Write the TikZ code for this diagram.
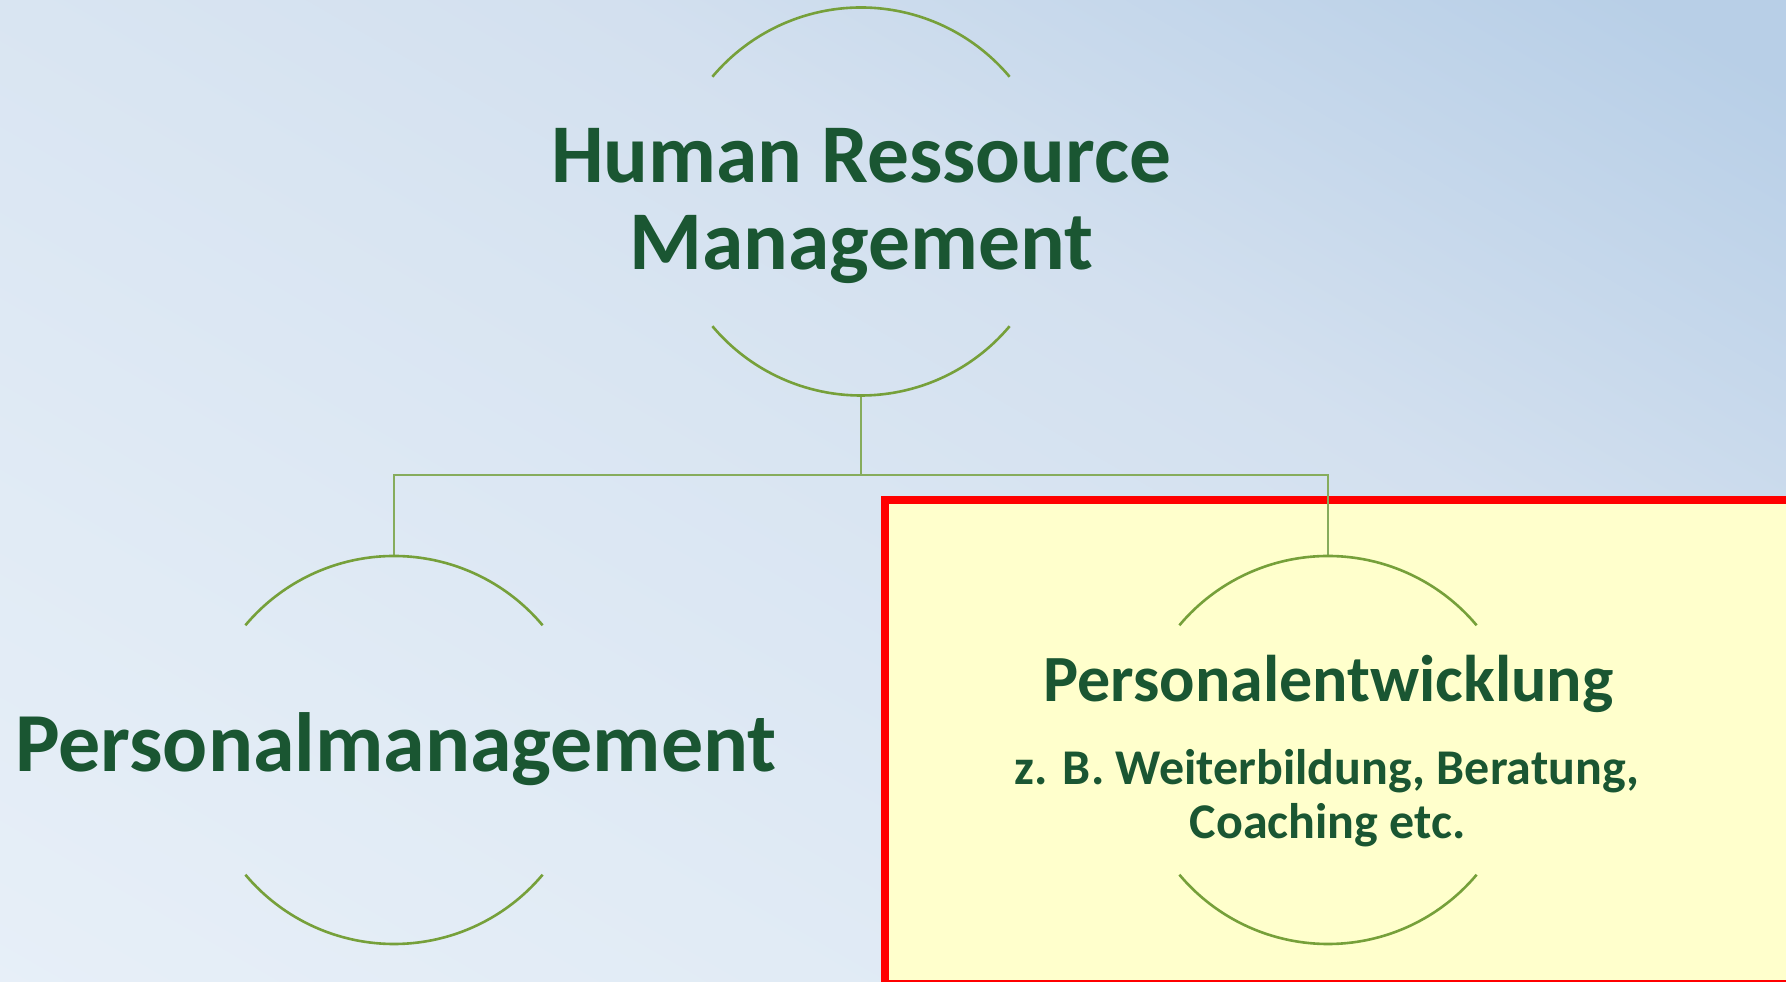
\documentclass[tikz,border=0pt]{standalone}
\usepackage{fontspec}
\setmainfont{Carlito}
\definecolor{bgA}{HTML}{E7EFF8}
\definecolor{bgB}{HTML}{E1EBF5}
\definecolor{bgC}{HTML}{D9E5F2}
\definecolor{bgD}{HTML}{D3E0EF}
\definecolor{bgE}{HTML}{B8CFE7}
\definecolor{txtgreen}{HTML}{1A5632}
\definecolor{arcgreen}{HTML}{76A03A}
\definecolor{conngreen}{HTML}{86AC5C}
\definecolor{boxyellow}{HTML}{FFFFCC}
\pgfdeclareverticalshading{bgshade}{100bp}{color(0bp)=(bgA); color(25bp)=(bgA); color(37bp)=(bgB); color(49.5bp)=(bgC); color(58bp)=(bgD); color(72.5bp)=(bgE); color(75bp)=(bgE); color(100bp)=(bgE)}
\tikzset{
  ring/.style={circle, minimum size=388pt, inner sep=0pt, outer sep=0pt},
  arcline/.style={draw=arcgreen, line width=2.6pt},
  conn/.style={draw=conngreen, line width=2.5pt},
  lbl/.style={text=txtgreen, inner sep=0pt},
}
\begin{document}
\begin{tikzpicture}[x=1pt,y=1pt]
\useasboundingbox (0,0) rectangle (1786,982);
% background
\begin{scope}
\clip (0,0) rectangle (1786,982);
\shade[shading=bgshade, transform canvas={rotate=-30}] (-700,-20) rectangle (1800,1760);
\end{scope}
% highlight box
\begin{scope}
\clip (0,0) rectangle (1786,982);
\path[fill=boxyellow, draw=red, line width=8pt] (885,-2) rectangle (1794,482);
\end{scope}
% rings (invisible nodes)
\node[ring] (hrm) at (861,780.5) {};
\node[ring] (pm) at (394,232) {};
\node[ring] (pe) at (1328,232) {};
% connectors
\coordinate (hub) at (861,507);
\draw[conn] (hrm.south) -- (hub);
\draw[conn] (pm.north) |- (hub);
\draw[conn] (pe.north) |- (hub);
% arcs
\foreach \n in {hrm,pm,pe}{
  \draw[arcline] (\n.40) arc[start angle=40, end angle=140, radius=194pt];
  \draw[arcline] (\n.220) arc[start angle=220, end angle=320, radius=194pt];
}
% texts
\node[lbl, align=center, font=\fontsize{83.5}{87}\selectfont\bfseries] (hrmtext) at (861,775.5) {Human Ressource\\Management};
\node[lbl, anchor=base, font=\fontsize{84}{90}\selectfont\bfseries] (pmtext) at (396,210) {Personalmanagement};
\node[lbl, anchor=base, font=\fontsize{66}{72}\selectfont\bfseries] (petext) at (1328.5,280) {Personalentwicklung};
\node[lbl, anchor=base, font=\fontsize{50}{54}\selectfont\bfseries] (pesub1) at (1327,197) {z. B. Weiterbildung, Beratung,};
\node[lbl, anchor=base, font=\fontsize{50}{54}\selectfont\bfseries] (pesub2) at (1327.5,143) {Coaching etc.};
\end{tikzpicture}
\end{document}
